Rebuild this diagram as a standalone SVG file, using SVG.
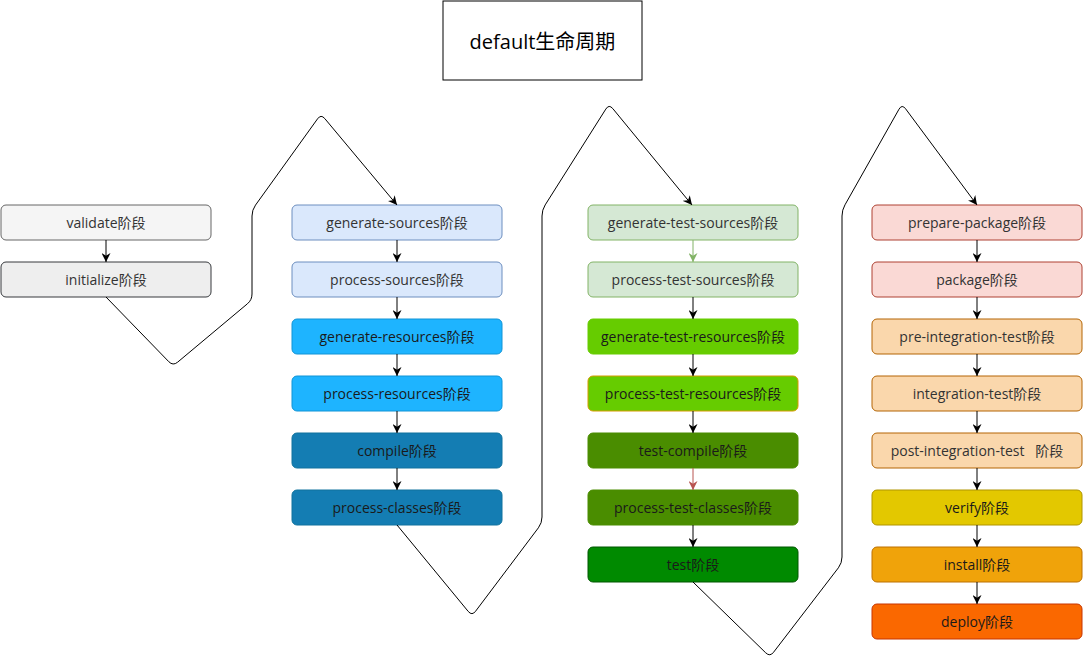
<svg xmlns="http://www.w3.org/2000/svg" width="1083" height="670" viewBox="0 0 1083 670">
<style>
text{font-family:"Open Sans","Noto Sans CJK SC",sans-serif;font-size:14px;text-anchor:middle;dominant-baseline:central;fill:#333}
.dk text{fill:#1a1a1a}
rect{stroke-width:1}
.c{fill:none;stroke:#000;stroke-width:1}
</style>
<defs>
<marker id="a" viewBox="0 0 10 10" refX="10" refY="5" markerWidth="9" markerHeight="9" markerUnits="userSpaceOnUse" orient="auto"><path d="M0,0 L10,5 L0,10 L3,5 z" fill="#000"/></marker>
<marker id="ag" viewBox="0 0 10 10" refX="10" refY="5" markerWidth="9" markerHeight="9" markerUnits="userSpaceOnUse" orient="auto"><path d="M0,0 L10,5 L0,10 L3,5 z" fill="#82b366"/></marker>
<marker id="ar" viewBox="0 0 10 10" refX="10" refY="5" markerWidth="9" markerHeight="9" markerUnits="userSpaceOnUse" orient="auto"><path d="M0,0 L10,5 L0,10 L3,5 z" fill="#b85450"/></marker>
</defs>
<rect width="1083" height="670" fill="#fff"/>
<g id="title"><rect x="443" y="1" width="199" height="79" fill="#fff" stroke="#000"/><text x="542.5" y="41" style="font-size:20px;fill:#000">default生命周期</text></g>

<g id="validate"><rect x="1" y="205" width="210" height="35" rx="5" fill="#f5f5f5" stroke="#666"/><text x="106" y="222.5">validate阶段</text></g>
<g id="initialize"><rect x="1" y="262" width="210" height="35" rx="5" fill="#eeeeee" stroke="#36393d"/><text x="106" y="279.5">initialize阶段</text></g>

<g id="generate-sources"><rect x="292" y="205" width="210" height="35" rx="5" fill="#dae8fc" stroke="#6c8ebf"/><text x="397" y="222.5">generate-sources阶段</text></g>
<g id="process-sources"><rect x="292" y="262" width="210" height="35" rx="5" fill="#dae8fc" stroke="#6c8ebf"/><text x="397" y="279.5">process-sources阶段</text></g>
<g id="generate-resources" class="dk"><rect x="292" y="319" width="210" height="35" rx="5" fill="#1eb4ff" stroke="#1094d6"/><text x="397" y="336.5">generate-resources阶段</text></g>
<g id="process-resources" class="dk"><rect x="292" y="376" width="210" height="35" rx="5" fill="#1eb4ff" stroke="#1094d6"/><text x="397" y="393.5">process-resources阶段</text></g>
<g id="compile" class="dk"><rect x="292" y="433" width="210" height="35" rx="5" fill="#147db3" stroke="#10739e"/><text x="397" y="450.5">compile阶段</text></g>
<g id="process-classes" class="dk"><rect x="292" y="490" width="210" height="35" rx="5" fill="#147db3" stroke="#10739e"/><text x="397" y="507.5">process-classes阶段</text></g>

<g id="generate-test-sources"><rect x="588" y="205" width="210" height="35" rx="5" fill="#d5e8d4" stroke="#82b366"/><text x="693" y="222.5">generate-test-sources阶段</text></g>
<g id="process-test-sources"><rect x="588" y="262" width="210" height="35" rx="5" fill="#d5e8d4" stroke="#82b366"/><text x="693" y="279.5">process-test-sources阶段</text></g>
<g id="generate-test-resources" class="dk"><rect x="588" y="319" width="210" height="35" rx="5" fill="#66cc00" stroke="#66cc00"/><text x="693" y="336.5">generate-test-resources阶段</text></g>
<g id="process-test-resources" class="dk"><rect x="588" y="376" width="210" height="35" rx="5" fill="#66cc00" stroke="#d79b00"/><text x="693" y="393.5">process-test-resources阶段</text></g>
<g id="test-compile" class="dk"><rect x="588" y="433" width="210" height="35" rx="5" fill="#4a8d00" stroke="#4a8d00"/><text x="693" y="450.5">test-compile阶段</text></g>
<g id="process-test-classes" class="dk"><rect x="588" y="490" width="210" height="35" rx="5" fill="#4a8d00" stroke="#4a8d00"/><text x="693" y="507.5">process-test-classes阶段</text></g>
<g id="test" class="dk"><rect x="588" y="547" width="210" height="35" rx="5" fill="#008a00" stroke="#005700"/><text x="693" y="564.5">test阶段</text></g>

<g id="prepare-package"><rect x="872" y="205" width="210" height="35" rx="5" fill="#fad9d5" stroke="#ae4132"/><text x="977" y="222.5">prepare-package阶段</text></g>
<g id="package"><rect x="872" y="262" width="210" height="35" rx="5" fill="#fad9d5" stroke="#ae4132"/><text x="977" y="279.5">package阶段</text></g>
<g id="pre-integration-test"><rect x="872" y="319" width="210" height="35" rx="5" fill="#fad7ac" stroke="#b46504"/><text x="977" y="336.5">pre-integration-test阶段</text></g>
<g id="integration-test"><rect x="872" y="376" width="210" height="35" rx="5" fill="#fad7ac" stroke="#b46504"/><text x="977" y="393.5">integration-test阶段</text></g>
<g id="post-integration-test"><rect x="872" y="433" width="210" height="35" rx="5" fill="#fad7ac" stroke="#b46504"/><text x="977" y="450.5" xml:space="preserve">post-integration-test   阶段</text></g>
<g id="verify" class="dk"><rect x="872" y="490" width="210" height="35" rx="5" fill="#e3c800" stroke="#b09500"/><text x="977" y="507.5">verify阶段</text></g>
<g id="install" class="dk"><rect x="872" y="547" width="210" height="35" rx="5" fill="#f0a30a" stroke="#bd7000"/><text x="977" y="564.5">install阶段</text></g>
<g id="deploy" class="dk"><rect x="872" y="604" width="210" height="35" rx="5" fill="#fa6800" stroke="#c73500"/><text x="977" y="621.5">deploy阶段</text></g>

<g id="connectors">
<path class="c" d="M106,240 V262" marker-end="url(#a)"/>
<path class="c" d="M397,240 V262" marker-end="url(#a)"/>
<path class="c" d="M397,297 V319" marker-end="url(#a)"/>
<path class="c" d="M397,354 V376" marker-end="url(#a)"/>
<path class="c" d="M397,411 V433" marker-end="url(#a)"/>
<path class="c" d="M397,468 V490" marker-end="url(#a)"/>
<path class="c" d="M693,240 V262" style="stroke:#82b366" marker-end="url(#ag)"/>
<path class="c" d="M693,297 V319" marker-end="url(#a)"/>
<path class="c" d="M693,354 V376" marker-end="url(#a)"/>
<path class="c" d="M693,411 V433" marker-end="url(#a)"/>
<path class="c" d="M693,468 V490" style="stroke:#b85450" marker-end="url(#ar)"/>
<path class="c" d="M693,525 V547" marker-end="url(#a)"/>
<path class="c" d="M977,240 V262" marker-end="url(#a)"/>
<path class="c" d="M977,297 V319" marker-end="url(#a)"/>
<path class="c" d="M977,354 V376" marker-end="url(#a)"/>
<path class="c" d="M977,411 V433" marker-end="url(#a)"/>
<path class="c" d="M977,468 V490" marker-end="url(#a)"/>
<path class="c" d="M977,525 V547" marker-end="url(#a)"/>
<path class="c" d="M977,582 V604" marker-end="url(#a)"/>
<path class="c" d="M106,297 L168.8,361.7 Q173,366 177.6,362.2 L247.4,303.8 Q252,300 252,294 L252,216 Q252,210 255.5,205.1 L317.5,118.9 Q321,114 324.8,118.6 L397,205" marker-end="url(#a)"/>
<path class="c" d="M397,525 L468.2,611.4 Q472,616 475.6,611.2 L538.4,527.8 Q542,523 542,517 L542,216 Q542,210 545.2,204.9 L605.8,109.1 Q609,104 612.8,108.6 L692,205" marker-end="url(#a)"/>
<path class="c" d="M693,582 L765.7,652.8 Q770,657 773.6,652.2 L838.4,567.8 Q842,563 842,557 L842,216 Q842,210 845,204.8 L899,109.2 Q902,104 905.6,108.8 L977,205" marker-end="url(#a)"/>
</g>
</svg>
